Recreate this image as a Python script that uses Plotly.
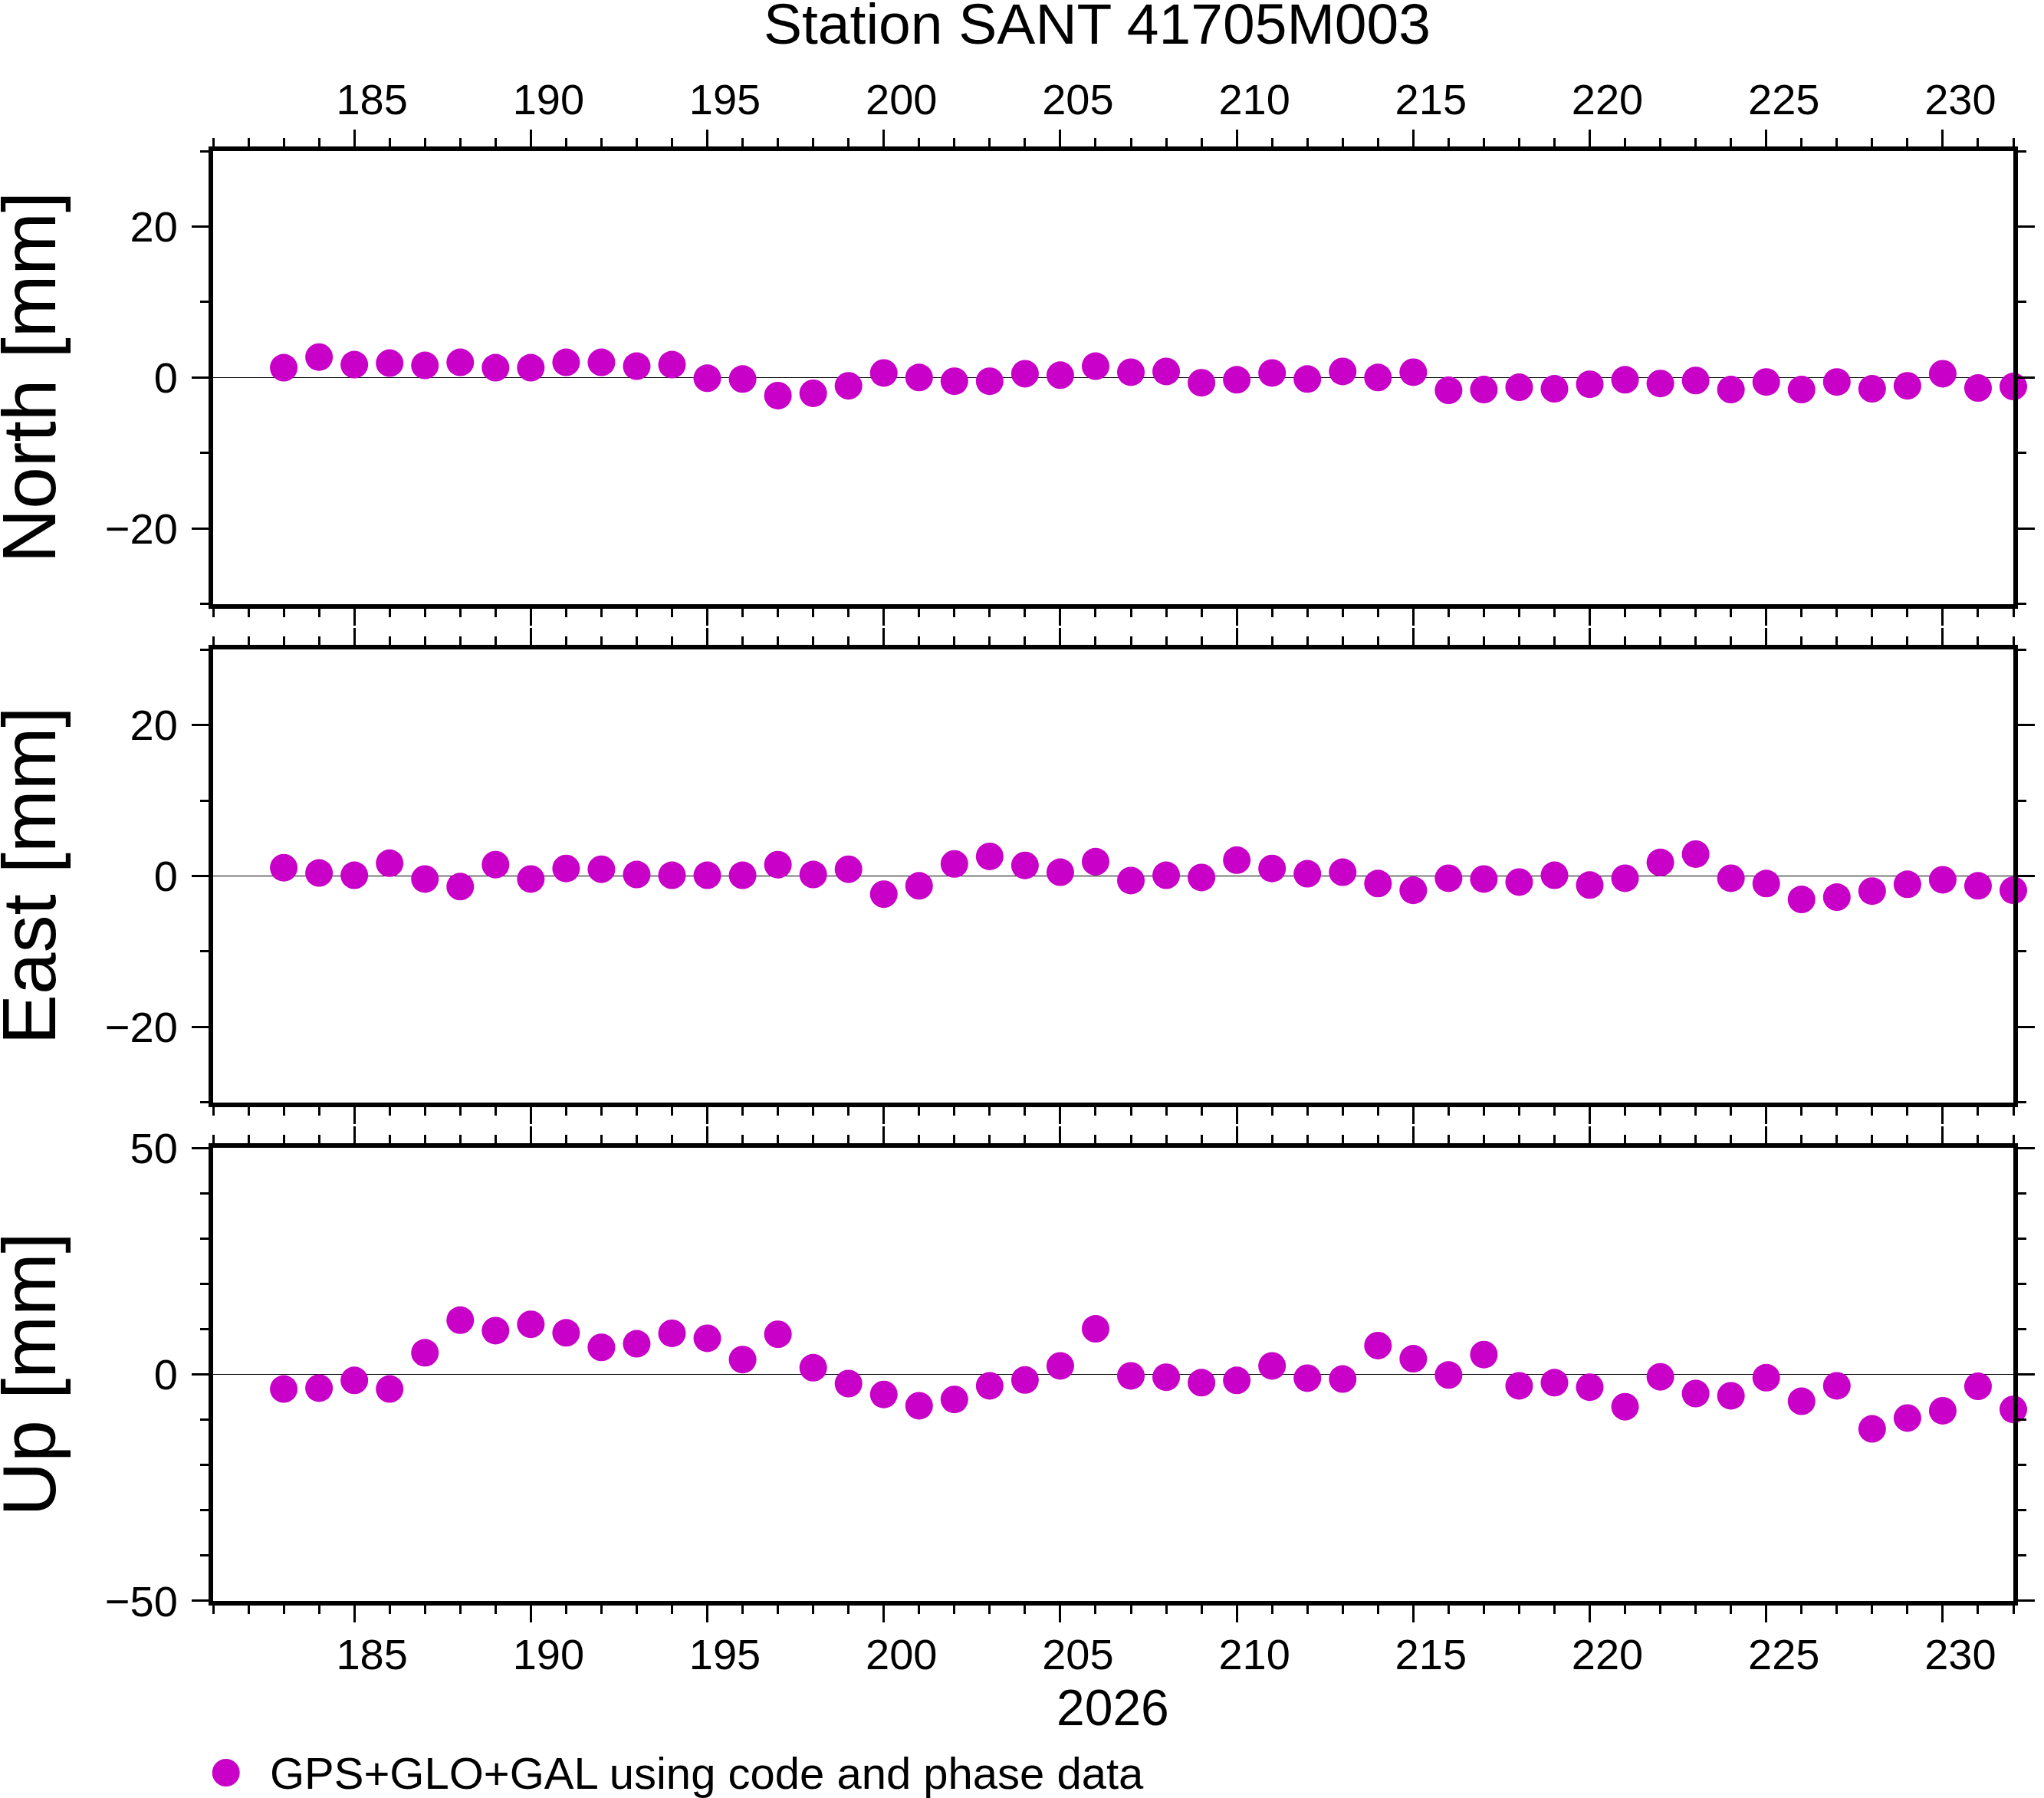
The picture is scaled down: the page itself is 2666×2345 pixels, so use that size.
import plotly.graph_objects as go
from plotly.subplots import make_subplots

# day of year 2026
days = [183, 184, 185, 186, 187, 188, 189, 190, 191, 192, 193, 194, 195, 196, 197, 198, 199,
        200, 201, 202, 203, 204, 205, 206, 207, 208, 209, 210, 211, 212, 213, 214, 215, 216,
        217, 218, 219, 220, 221, 222, 223, 224, 225, 226, 227, 228, 229, 230, 231, 232]

north = [1.3, 2.7, 1.7, 1.9, 1.6, 2.0, 1.3, 1.3, 2.0, 2.0, 1.5, 1.7,
         -0.1, -0.2, -2.4, -2.1, -1.1, 0.6, 0.0, -0.5, -0.5, 0.5, 0.3, 1.5,
         0.7, 0.8, -0.7, -0.3, 0.6, -0.2, 0.8, 0.0, 0.7,
         -1.7, -1.6, -1.3, -1.5, -0.9, -0.3, -0.8, -0.4, -1.6, -0.6, -1.6, -0.6, -1.5, -1.1, 0.5, -1.4, -1.2]

east = [1.1, 0.4, 0.1, 1.7, -0.4, -1.4, 1.5, -0.4, 1.0, 0.9, 0.2, 0.1,
        0.1, 0.1, 1.5, 0.2, 0.9, -2.4, -1.3, 1.6, 2.6, 1.4, 0.5, 1.9,
        -0.6, 0.1, -0.2, 2.1, 1.0, 0.3, 0.5, -1.0, -1.9, -0.3, -0.4, -0.8, 0.1,
        -1.2, -0.3, 1.8, 2.9, -0.3, -1.0, -3.1, -2.8, -2.0, -1.1, -0.5, -1.3, -1.9]

up = [-3.2, -3.0, -1.3, -3.2, 4.8, 12.0, 9.7, 11.1, 9.2, 6.0, 6.8, 9.1,
      8.0, 3.3, 8.9, 1.5, -2.0, -4.4, -6.9, -5.5, -2.5, -1.2, 1.9, 10.1,
      -0.3, -0.6, -1.8, -1.3, 1.9, -0.8, -1.0, 6.4, 3.5, -0.1, 4.4, -2.5, -1.8,
      -2.8, -7.1, -0.5, -4.2, -4.7, -0.7, -5.9, -2.5, -12.0, -9.6, -8.0, -2.6, -7.7]

panel_titles = ["North [mm]", "East [mm]", "Up [mm]"]
y_ranges = [[-30, 30], [-30, 30], [-50, 50]]
y_dticks = [20, 20, 50]

title = "Station SANT 41705M003"
x_title = "2026"
legend_text = "GPS+GLO+GAL using code and phase data"

MAGENTA = "rgb(200,0,200)"
FONT = "Liberation Sans, Arial, Helvetica, sans-serif"

W, H = 2666, 2345
# small horizontal stretch: the photographed page looked a touch narrower than laid out
SX = 0.997
L = round(277 / SX)
R = W - round(2641 / SX)
T, B = 197, H - 2088
plot_w = W - L - R
plot_h = H - T - B
day_px = plot_w / (232 - 181)


def px_x(x):
    return (x / SX - L) / plot_w


def px_y(y):
    return (H - B - y) / plot_h


fig = make_subplots(rows=3, cols=1, shared_xaxes=False, vertical_spacing=0.0315)

for i, vals in enumerate([north, east, up]):
    fig.add_trace(
        go.Scatter(
            x=days, y=vals, mode="markers", cliponaxis=False, showlegend=False,
            marker=dict(color=MAGENTA, size=36, line=dict(width=0)),
        ),
        row=i + 1, col=1,
    )

axis_common = dict(
    showline=True, linecolor="black", linewidth=6, mirror="allticks",
    ticks="outside", ticklen=22, tickwidth=3, tickcolor="black",
    showgrid=False, tickfont=dict(size=56, color="black", family=FONT),
)

for i in range(3):
    r = i + 1
    fig.update_xaxes(
        range=[181, 232], tick0=185, dtick=5,
        minor=dict(dtick=1, ticks="outside", ticklen=11, tickwidth=3, tickcolor="black", showgrid=False),
        zeroline=False,
        side="top" if i == 0 else "bottom",
        showticklabels=(i != 1),
        ticklabelshift=int(round(day_px / 2)),
        ticklabelstandoff=-2 if i == 0 else -6,
        row=r, col=1, **axis_common,
    )
    fig.update_yaxes(
        range=y_ranges[i], tick0=0, dtick=y_dticks[i],
        minor=dict(dtick=10, ticks="outside", ticklen=11, tickwidth=3, tickcolor="black", showgrid=False),
        zeroline=True, zerolinecolor="black", zerolinewidth=1.3,
        ticklabelstandoff=7,
        row=r, col=1, **axis_common,
    )

# panel labels on the left
panel_centers = [(197 + 787) / 2, (847 + 1437) / 2, (1496 + 2088) / 2]
for txt, yc in zip(panel_titles, panel_centers):
    fig.add_annotation(
        text=txt, textangle=-90, showarrow=False,
        xref="paper", yref="paper",
        x=px_x(36), y=px_y(yc),
        xanchor="center", yanchor="middle",
        font=dict(size=98, color="black", family=FONT),
    )

fig.add_annotation(
    text=title, showarrow=False, xref="paper", yref="paper",
    x=px_x(1438), y=px_y(31),
    xanchor="center", yanchor="middle",
    font=dict(size=75, color="black", family=FONT),
)
fig.add_annotation(
    text=x_title, showarrow=False, xref="paper", yref="paper",
    x=px_x(1459), y=px_y(2227),
    xanchor="center", yanchor="middle",
    font=dict(size=66, color="black", family=FONT),
)

# legend drawn by hand so the symbol keeps the plotted marker size
leg_y = px_y(2312)
fig.add_shape(
    type="circle", xref="paper", yref="paper",
    xsizemode="pixel", ysizemode="pixel",
    xanchor=px_x(294), yanchor=leg_y,
    x0=-18, x1=18, y0=-18, y1=18,
    fillcolor=MAGENTA, line=dict(width=0),
)
fig.add_annotation(
    text=legend_text, showarrow=False, xref="paper", yref="paper",
    x=px_x(350), y=leg_y, xanchor="left", yanchor="middle",
    font=dict(size=58, color="black", family=FONT),
)

fig.update_layout(
    width=W, height=H,
    margin=dict(l=L, r=R, t=T, b=B),
    paper_bgcolor="white", plot_bgcolor="white",
    font=dict(family=FONT, color="black"),
    showlegend=False,
)

# drop the default body margin so the figure fills the window exactly
fig.write_html(
    "out.html",
    config={"displayModeBar": False},
    post_script="document.body.style.margin='0';"
                "document.documentElement.style.overflow='hidden';"
                "document.body.style.overflow='hidden';",
)
